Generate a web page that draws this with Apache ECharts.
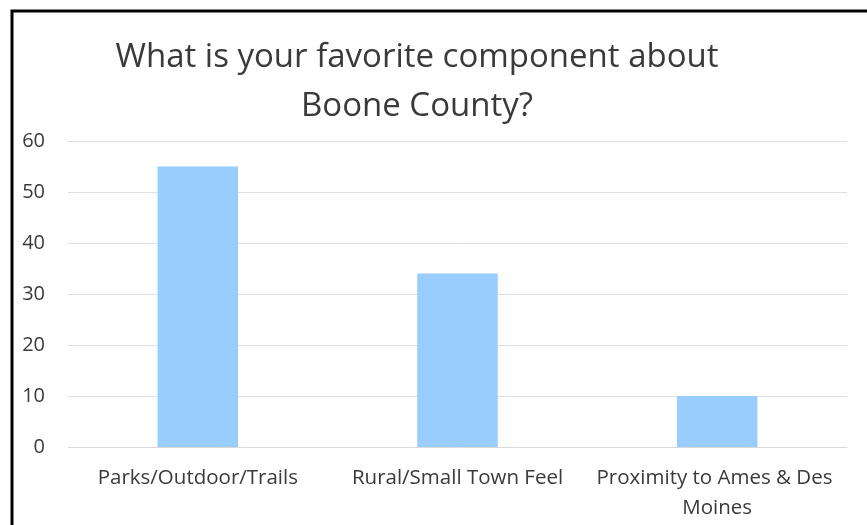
<!DOCTYPE html>
<html>
<head>
<meta charset="utf-8">
<script src="https://cdn.jsdelivr.net/npm/echarts@6/dist/echarts.min.js"></script>
<style>
html,body{margin:0;padding:0;background:#fff;}
#chart{width:867px;height:525px;}
</style>
</head>
<body>
<div id="chart"></div>
<script>
const titleText = "What is your favorite component about\nBoone County?";
const categories = ["Parks/Outdoor/Trails", "Rural/Small Town Feel", "Proximity to Ames & Des Moines"];
const values = [55, 34, 10];
const yTicks = { min: 0, max: 60, interval: 10 };

const chart = echarts.init(document.getElementById('chart'), null, { renderer: 'canvas' });
const font = "'Open Sans', sans-serif";
chart.setOption({
  animation: false,
  backgroundColor: '#ffffff',
  title: {
    text: titleText,
    left: 412,
    top: 28,
    textAlign: 'center',
    textStyle: { fontFamily: font, fontSize: 33, fontWeight: 'normal', color: '#3a3a3a', lineHeight: 49 }
  },
  graphic: [{
    type: 'rect',
    silent: true,
    shape: { x: 12, y: 11, width: 900, height: 600 },
    style: { fill: 'none', stroke: '#000000', lineWidth: 3 }
  }],
  grid: { left: 68, right: 20, top: 141, bottom: 78 },
  xAxis: {
    type: 'category',
    data: categories,
    axisLine: { show: true, lineStyle: { color: '#d9d9d9', width: 1 } },
    axisTick: { show: false },
    axisLabel: {
      interval: 0, margin: 16, fontFamily: font, fontSize: 20.5, color: '#3a3a3a',
      width: 255, overflow: 'break', lineHeight: 30, align: 'center'
    }
  },
  yAxis: {
    type: 'value',
    min: yTicks.min, max: yTicks.max, interval: yTicks.interval,
    axisLine: { show: false },
    axisTick: { show: false },
    splitLine: { lineStyle: { color: '#e0e0e0', width: 1 } },
    axisLabel: { margin: 23, fontFamily: font, fontSize: 20, color: '#3a3a3a' }
  },
  series: [{
    type: 'bar',
    data: values,
    barWidth: '31%',
    itemStyle: { color: '#99ccff' }
  }]
});
</script>
</body>
</html>
